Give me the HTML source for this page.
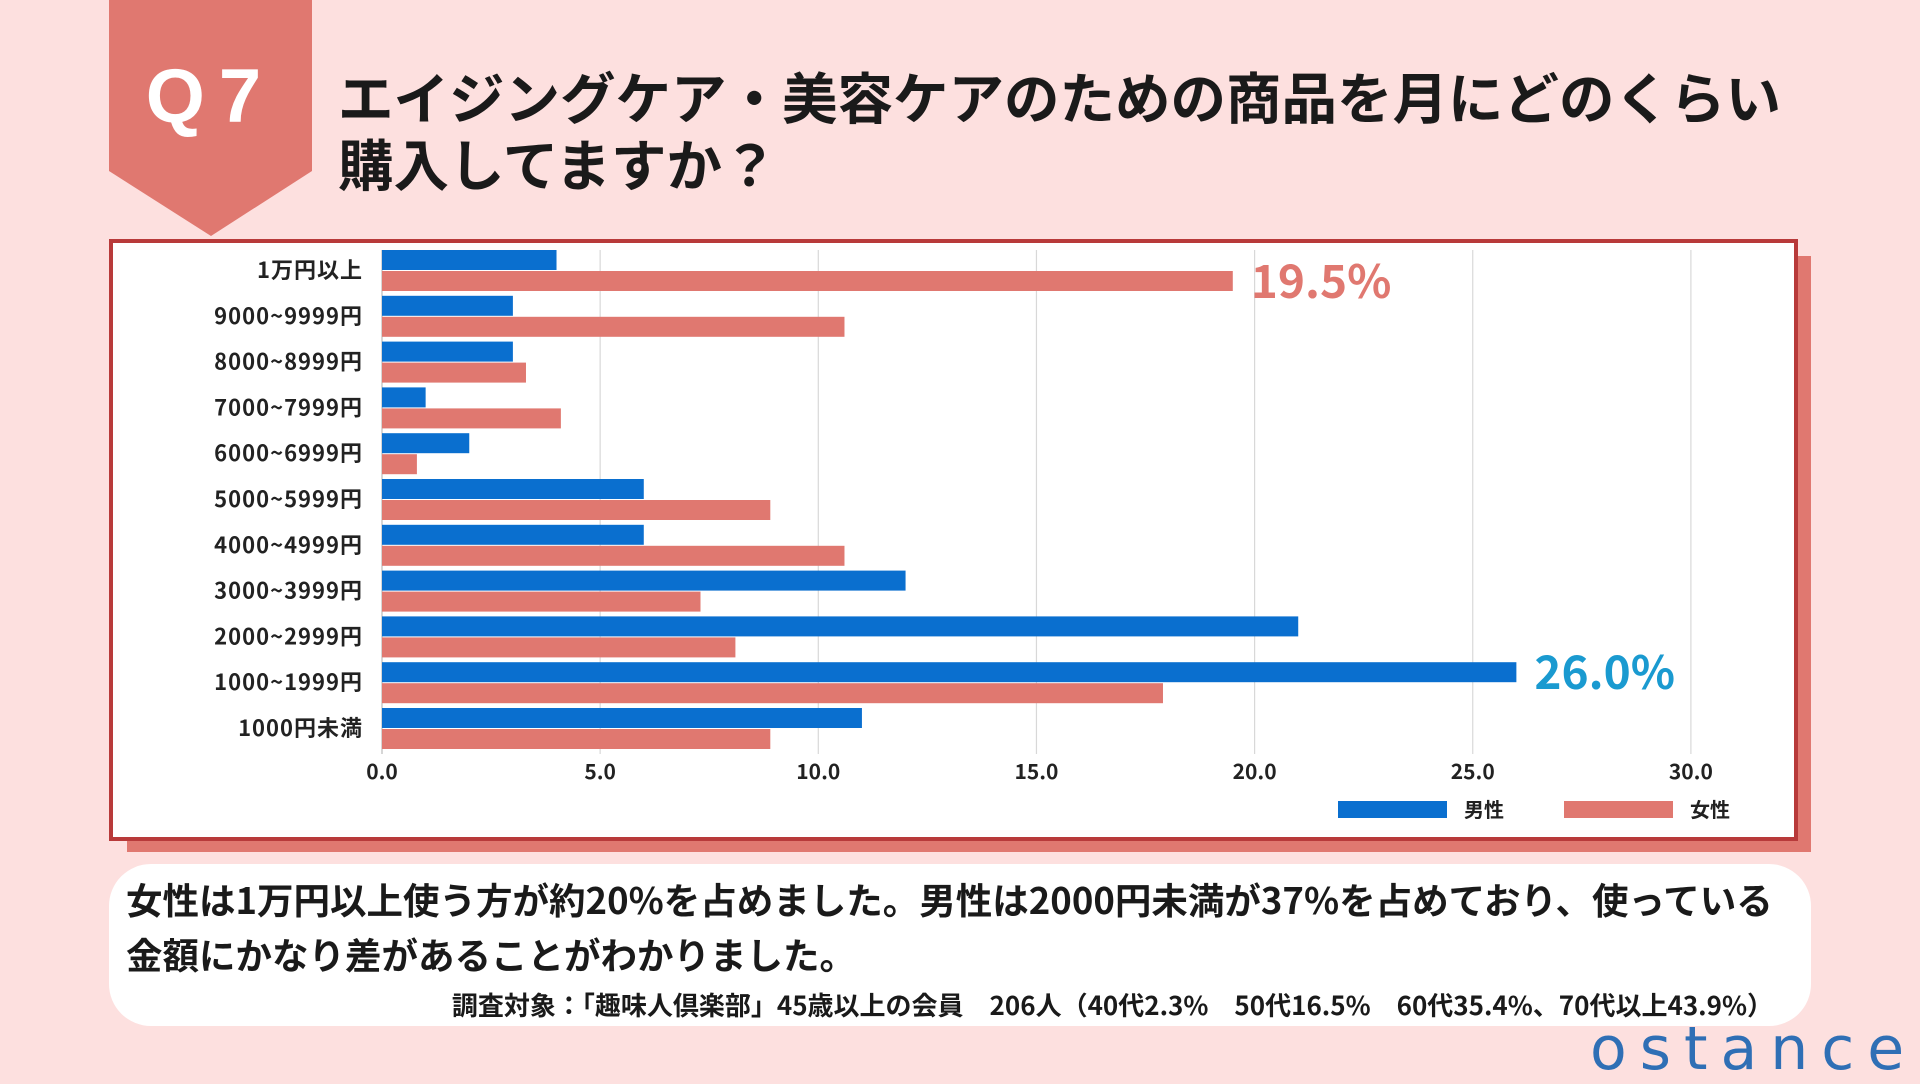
<!DOCTYPE html>
<html><head><meta charset="utf-8">
<style>
html,body{margin:0;padding:0;}
body{width:1920px;height:1080px;background:#fde0df;position:relative;overflow:hidden;font-family:"Liberation Sans","Noto Sans CJK JP",sans-serif;}
.abs{position:absolute;}
</style></head><body>
<svg class="abs" style="left:0;top:0" width="1920" height="1080">
  <polygon points="109,0 312,0 312,171 211,236 109,171" fill="#e07870"/>
</svg>
<div class="abs" style="left:109px;width:203px;top:52px;text-align:center;color:#fff;font-size:76px;font-weight:bold;letter-spacing:14px;line-height:90px;">Q7</div>
<div class="abs" style="left:338px;top:62px;font-size:55.5px;font-weight:bold;line-height:67px;color:#1a1a1a;white-space:nowrap;font-family:'Noto Sans CJK JP',sans-serif;">エイジングケア・美容ケアのための商品を月にどのくらい<br>購入してますか？</div>

<div class="abs" style="left:127px;top:256px;width:1684px;height:596px;background:#e07870;"></div>
<div class="abs" style="left:109px;top:239px;width:1681px;height:594px;background:#fff;border:4px solid #b83a3a;box-sizing:content-box;"></div>

<svg id="chart" class="abs" style="left:0;top:0" width="1920" height="1080"></svg>

<div class="abs" style="left:109px;top:864px;width:1702px;height:162px;background:#fff;border-radius:42px;"></div>
<div class="abs" style="left:126px;top:871px;font-size:36.5px;font-weight:bold;line-height:55px;color:#1a1a1a;white-space:nowrap;font-family:'Noto Sans CJK JP',sans-serif;">女性は1万円以上使う方が約20%を占めました。男性は2000円未満が37%を占めており、使っている<br>金額にかなり差があることがわかりました。</div>
<div class="abs" style="right:147px;top:986px;font-size:26px;font-weight:bold;color:#1a1a1a;white-space:nowrap;font-family:'Noto Sans CJK JP',sans-serif;">調査対象：「趣味人倶楽部」45歳以上の会員　206人（40代2.3%　50代16.5%　60代35.4%、70代以上43.9%）</div>
<div class="abs" style="left:1590px;top:1014px;font-size:60px;color:#2f6fb5;letter-spacing:13px;font-family:'DejaVu Sans','Liberation Sans',sans-serif;">ostance</div>

<script>
const categories=["1万円以上","9000~9999円","8000~8999円","7000~7999円","6000~6999円","5000~5999円","4000~4999円","3000~3999円","2000~2999円","1000~1999円","1000円未満"];
const maleValues=[4.0,3.0,3.0,1.0,2.0,6.0,6.0,12.0,21.0,26.0,11.0];
const femaleValues=[19.5,10.6,3.3,4.1,0.8,8.9,10.6,7.3,8.1,17.9,8.9];
const ticks=[0,5,10,15,20,25,30];
const tickLabels=["0.0","5.0","10.0","15.0","20.0","25.0","30.0"];
const seriesNames=["男性","女性"];
const highlights=[{series:1,index:0,text:"19.5%"},{series:0,index:9,text:"26.0%"}];

const NS="http://www.w3.org/2000/svg";
const svg=document.getElementById('chart');
const X0=382, UNIT=43.63, TOP=250, PITCH=45.8, BH=20;
const COL=["#0a6fcf","#e07870"];
function xs(v){return X0+v*UNIT;}
function ys(i){return TOP+i*PITCH;}
function mk(tag,attrs){const e=document.createElementNS(NS,tag);for(const k in attrs)e.setAttribute(k,attrs[k]);svg.appendChild(e);return e;}

ticks.forEach((t,i)=>{
  const g=mk('line',{x1:xs(t),x2:xs(t),y1:250,y2:754,stroke:i===0?'#bbb':'#d8d8d8','stroke-width':1.2});
  
  
  const tl=mk('text',{x:xs(t),y:779,'text-anchor':'middle','font-size':21,'font-weight':'bold',fill:'#222','font-family':"'Noto Sans CJK JP',sans-serif"});
  tl.textContent=tickLabels[i];
  
  
});

categories.forEach((c,i)=>{
  const l=mk('text',{x:363,y:ys(i)+28,'text-anchor':'end','font-size':22,'font-weight':'bold','letter-spacing':1,fill:'#222','font-family':"'Noto Sans CJK JP',sans-serif"});
  l.textContent=c;
  
  
  const b1=mk('rect',{x:X0,y:ys(i),width:xs(maleValues[i])-X0,height:BH,fill:COL[0]});
  
  
  const b2=mk('rect',{x:X0,y:ys(i)+21,width:xs(femaleValues[i])-X0,height:BH,fill:COL[1]});
  
  
});

highlights.forEach(h=>{
  const vals=h.series===0?maleValues:femaleValues;
  const yy=ys(h.index)+(h.series===0?10:31)+17;
  const t=mk('text',{x:xs(vals[h.index])+18,y:yy,'font-size':46,'font-weight':'bold',fill:h.series===0?'#1a9ad0':'#e07870','font-family':"'Noto Sans CJK JP',sans-serif"});
  t.textContent=h.text;
  
  
});

const legX=[1338,1564];
seriesNames.forEach((n,i)=>{
  const r=mk('rect',{x:legX[i],y:801,width:109,height:17,fill:COL[i]});
  
  
  const t=mk('text',{x:legX[i]+126,y:817,'font-size':20,'font-weight':'bold',fill:'#222','font-family':"'Noto Sans CJK JP',sans-serif"});
  t.textContent=n;
  
  
});
</script>
</body></html>
